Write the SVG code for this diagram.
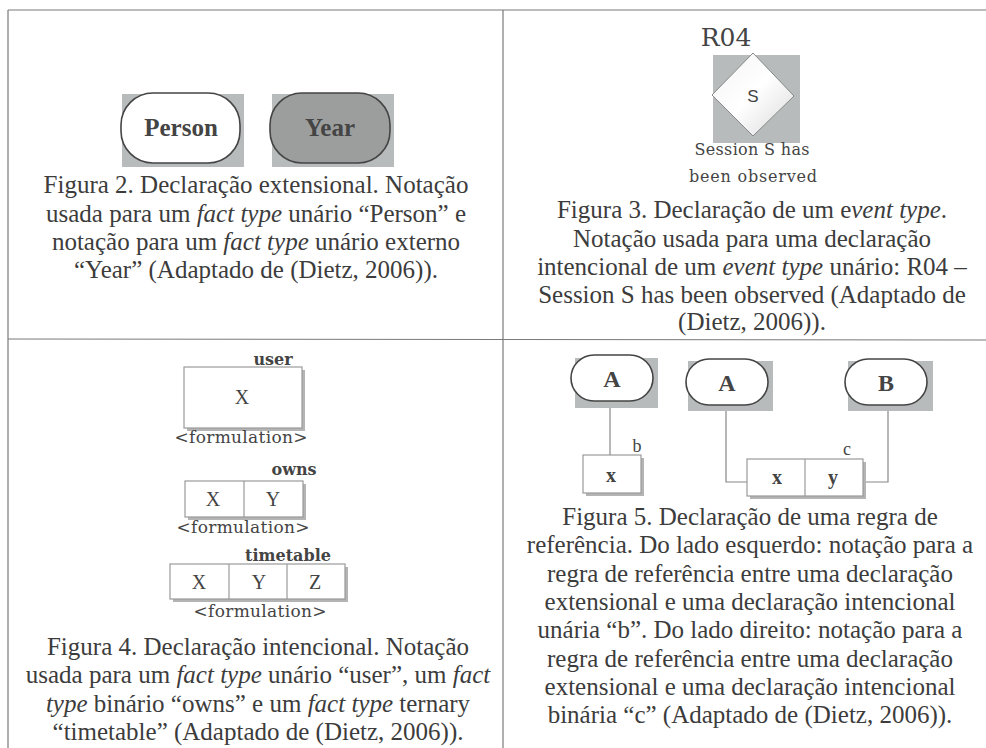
<svg xmlns="http://www.w3.org/2000/svg" width="986" height="748" viewBox="0 0 986 748">
<defs>
<linearGradient id="dg" x1="0" y1="0" x2="1" y2="1">
<stop offset="0" stop-color="#f4f4f4"/>
<stop offset="0.5" stop-color="#ffffff"/>
<stop offset="1" stop-color="#d8d8d8"/>
</linearGradient>
</defs>
<style>
.grid{stroke:#7a7a7a;stroke-width:1.2;fill:none}
.cap{font-family:"Liberation Serif","Times New Roman",serif;font-size:25px;fill:#3c3c3c;text-anchor:middle}
.cap tspan.i{font-style:italic}
.bg{fill:#b7bbbb}
.pill{fill:#ffffff;stroke:#444;stroke-width:1.6}
.pillD{fill:#9c9e9e;stroke:#444;stroke-width:1.6}
.pt{font-family:"Liberation Serif","Times New Roman",serif;font-weight:bold;font-size:25px;fill:#444;text-anchor:middle}
.ser{font-family:"Liberation Serif","Times New Roman",serif;fill:#444;text-anchor:middle}
.box{fill:#fff;stroke:#9a9a9a;stroke-width:1.2}
.sh{fill:#b4b4b4}
.lbl{font-family:"DejaVu Serif",serif;font-weight:bold;font-size:16px;fill:#444;text-anchor:middle}
.frm{font-family:"DejaVu Serif",serif;font-size:17px;fill:#444;text-anchor:middle}
.conn{stroke:#888;stroke-width:1.2;fill:none}
</style>
<rect width="986" height="748" fill="#ffffff"/>
<g id="grid">
<line class="grid" x1="8" y1="10" x2="986" y2="10"/>
<line class="grid" x1="8" y1="10" x2="8" y2="748"/>
<line class="grid" x1="503" y1="10" x2="503" y2="748"/>
<line class="grid" x1="8" y1="339" x2="986" y2="340"/>
</g>

<g id="person">
<rect class="bg" x="122" y="94" width="122" height="73"/>
<rect class="pill" x="121" y="93" width="119" height="70" rx="32"/>
<text class="pt" x="181" y="136">Person</text>
</g>
<g id="year">
<rect class="bg" x="272" y="94" width="122" height="73"/>
<rect class="pillD" x="270" y="93" width="120" height="70" rx="32"/>
<text class="pt" x="330" y="136">Year</text>
</g>
<g id="caption2">
<text class="cap" x="256" y="193">Figura 2. Declaração extensional. Notação</text>
<text class="cap" x="256" y="222">usada para um <tspan class="i">fact type</tspan> unário “Person” e</text>
<text class="cap" x="256" y="250">notação para um <tspan class="i">fact type</tspan> unário externo</text>
<text class="cap" x="256" y="278">“Year” (Adaptado de (Dietz, 2006)).</text>
</g>

<g id="r04">
<text x="726" y="46" font-family="DejaVu Serif, serif" font-size="25" fill="#444" text-anchor="middle">R04</text>
<rect class="bg" x="713" y="55" width="87" height="88"/>
<polygon points="753,53 794,96 753,136 712,95" fill="url(#dg)" stroke="#888" stroke-width="1"/>
<text x="753" y="102" font-family="Liberation Sans, Arial, sans-serif" font-size="17" fill="#444" text-anchor="middle">S</text>
<text x="752" y="155" font-family="DejaVu Serif, serif" font-size="16" fill="#444" text-anchor="middle" textLength="115" lengthAdjust="spacing">Session S has</text>
<text x="753" y="182" font-family="DejaVu Serif, serif" font-size="16" fill="#444" text-anchor="middle" textLength="128" lengthAdjust="spacing">been observed</text>
</g>
<g id="caption3">
<text class="cap" x="752" y="218">Figura 3. Declaração de um e<tspan class="i">vent type</tspan>.</text>
<text class="cap" x="752" y="247">Notação usada para uma declaração</text>
<text class="cap" x="752" y="275">intencional de um <tspan class="i">event type</tspan> unário: R04 –</text>
<text class="cap" x="752" y="303">Session S has been observed (Adaptado de</text>
<text class="cap" x="752" y="330">(Dietz, 2006)).</text>
</g>

<g id="user">
<text class="lbl" x="273" y="365">user</text>
<rect class="sh" x="187" y="370" width="118" height="61"/>
<rect class="box" x="184" y="367" width="118" height="61"/>
<text class="ser" x="242" y="404" font-size="20">X</text>
<text class="frm" x="241" y="443" textLength="133" lengthAdjust="spacing">&lt;formulation&gt;</text>
</g>
<g id="owns">
<text class="lbl" x="294" y="475">owns</text>
<rect class="sh" x="188" y="484" width="118" height="36"/>
<rect class="box" x="185" y="481" width="118" height="36"/>
<line class="box" x1="244" y1="481" x2="244" y2="517"/>
<text class="ser" x="213" y="506" font-size="20">X</text>
<text class="ser" x="273" y="506" font-size="20">Y</text>
<text class="frm" x="243" y="533" textLength="133" lengthAdjust="spacing">&lt;formulation&gt;</text>
</g>
<g id="timetable">
<text class="lbl" x="288" y="561">timetable</text>
<rect class="sh" x="173" y="567" width="175" height="35"/>
<rect class="box" x="170" y="564" width="175" height="35"/>
<line class="box" x1="229" y1="564" x2="229" y2="599"/>
<line class="box" x1="287" y1="564" x2="287" y2="599"/>
<text class="ser" x="199" y="589" font-size="20">X</text>
<text class="ser" x="259" y="589" font-size="20">Y</text>
<text class="ser" x="315" y="589" font-size="20">Z</text>
<text class="frm" x="260" y="617" textLength="133" lengthAdjust="spacing">&lt;formulation&gt;</text>
</g>
<g id="caption4">
<text class="cap" x="258" y="655">Figura 4. Declaração intencional. Notação</text>
<text class="cap" x="258" y="683">usada para um <tspan class="i">fact type</tspan> unário “user”, um <tspan class="i">fact</tspan></text>
<text class="cap" x="258" y="712"><tspan class="i">type</tspan> binário “owns” e um <tspan class="i">fact type</tspan> ternary</text>
<text class="cap" x="258" y="740">“timetable” (Adaptado de (Dietz, 2006)).</text>
</g>

<g id="connectors">
<line class="conn" x1="610" y1="408" x2="610" y2="455"/>
<polyline class="conn" points="726,411 726,482 747,482"/>
<polyline class="conn" points="888,411 888,482 866,482"/>
</g>

<g id="nodeA1">
<rect class="bg" x="575" y="358" width="83" height="50"/>
<rect class="pill" x="571" y="355" width="82" height="46" rx="23"/>
<text class="ser" x="612" y="387" font-size="24" font-weight="bold">A</text>
</g>
<g id="nodeA2">
<rect class="bg" x="688" y="361" width="85" height="50"/>
<rect class="pill" x="686" y="359" width="82" height="46" rx="23"/>
<text class="ser" x="727" y="391" font-size="24" font-weight="bold">A</text>
</g>
<g id="nodeB">
<rect class="bg" x="848" y="361" width="85" height="50"/>
<rect class="pill" x="845" y="359" width="82" height="46" rx="23"/>
<text class="ser" x="886" y="391" font-size="24" font-weight="bold">B</text>
</g>
<g id="boxB">
<text class="ser" x="637" y="452" font-size="18">b</text>
<rect class="sh" x="586" y="458" width="58" height="38"/>
<rect class="box" x="583" y="455" width="58" height="38"/>
<text class="ser" x="611" y="482" font-size="20" font-weight="bold">x</text>
</g>
<g id="boxC">
<text class="ser" x="847" y="455" font-size="18">c</text>
<rect class="sh" x="750" y="462" width="116" height="37"/>
<rect class="box" x="747" y="459" width="116" height="37"/>
<line class="box" x1="805" y1="459" x2="805" y2="496"/>
<text class="ser" x="777" y="484" font-size="20" font-weight="bold">x</text>
<text class="ser" x="833" y="484" font-size="20" font-weight="bold">y</text>
</g>
<g id="caption5">
<text class="cap" x="750" y="525">Figura 5. Declaração de uma regra de</text>
<text class="cap" x="750" y="553">referência. Do lado esquerdo: notação para a</text>
<text class="cap" x="750" y="582">regra de referência entre uma declaração</text>
<text class="cap" x="750" y="610">extensional e uma declaração intencional</text>
<text class="cap" x="750" y="638">unária “b”. Do lado direito: notação para a</text>
<text class="cap" x="750" y="667">regra de referência entre uma declaração</text>
<text class="cap" x="750" y="695">extensional e uma declaração intencional</text>
<text class="cap" x="750" y="723">binária “c” (Adaptado de (Dietz, 2006)).</text>
</g>
</svg>
